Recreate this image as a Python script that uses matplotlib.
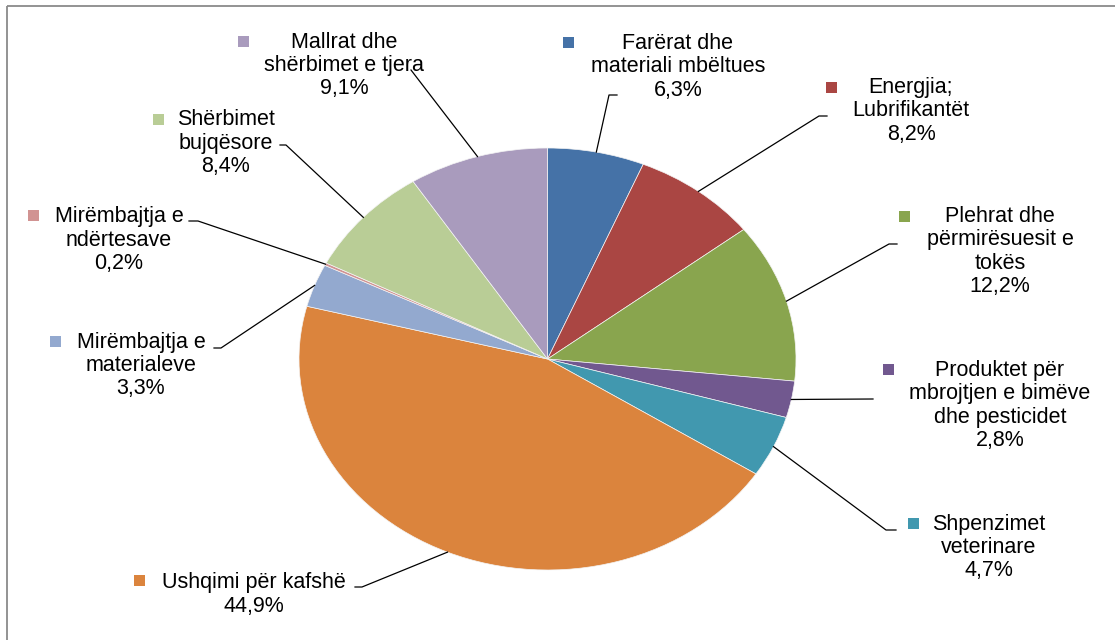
import matplotlib
matplotlib.use("Agg")
import matplotlib.pyplot as plt
from matplotlib.patches import Rectangle
import numpy as np

# ---------------- data ----------------
categories = [
    "Farërat dhe\nmateriali mbëltues",
    "Energjia;\nLubrifikantët",
    "Plehrat dhe\npërmirësuesit e\ntokës",
    "Produktet për\nmbrojtjen e bimëve\ndhe pesticidet",
    "Shpenzimet\nveterinare",
    "Ushqimi për kafshë",
    "Mirëmbajtja e\nmaterialeve",
    "Mirëmbajtja e\nndërtesave",
    "Shërbimet\nbujqësore",
    "Mallrat dhe\nshërbimet e tjera",
]
values = [6.3, 8.2, 12.2, 2.8, 4.7, 44.9, 3.3, 0.2, 8.4, 9.1]
colors = ["#4572A7", "#AA4643", "#89A54E", "#71588F", "#4198AF",
          "#DB843D", "#93A9CF", "#D19392", "#B9CD96", "#A99BBD"]

# ---------------- layout (pixel positions of label blocks) ----------------
W, H = 1115, 640
text_xy = [(678, 67), (911, 111), (1000, 251.5), (1000, 405.5), (989, 547.5),
           (254, 594.5), (141, 365.5), (119, 240), (226, 143), (344, 65.7)]
marker_xy = [(568, 42), (831, 87), (904, 216), (888, 369), (913, 523),
             (139, 580), (55, 341), (33, 215.5), (158, 119), (243, 41)]
leader_pts = [[(617, 95), (609, 95)],
              [(827, 116), (819, 116)],
              [(897, 244), (889, 244)],
              [(873, 399)],
              [(896, 530), (886, 530)],
              [(355, 587), (362, 587)],
              [(214, 348), (221, 348)],
              [(189, 221), (198, 221)],
              [(280, 145), (286, 145)],
              [(411, 70)]]

plt.rcParams['font.family'] = ['Liberation Sans', 'DejaVu Sans']
fig = plt.figure(figsize=(W / 100, H / 100), dpi=100)
fig.patch.set_facecolor("white")

# pie axes (elliptical pie)
cx, cy, rx, ry = 547.5, 359, 248.5, 211
pax = fig.add_axes([(cx - rx) / W, (H - cy - ry) / H, 2 * rx / W, 2 * ry / H])
wedges, _ = pax.pie(values, colors=colors, startangle=90, counterclock=False,
                    radius=1, center=(0, 0),
                    wedgeprops=dict(linewidth=0.5, edgecolor="#f4f4f4"))
pax.set_aspect("auto")
pax.set_xlim(-1, 1)
pax.set_ylim(-1, 1)
pax.axis("off")

# overlay axes in pixel coordinates
oax = fig.add_axes([0, 0, 1, 1], facecolor="none")
oax.set_xlim(0, W)
oax.set_ylim(H, 0)
oax.axis("off")

# frame lines
oax.plot([7, W], [6, 6], color="#8a8a8a", lw=1.3, solid_capstyle="butt")
oax.plot([7, 7], [6, H], color="#8a8a8a", lw=1.3, solid_capstyle="butt")

to_disp = pax.transData
from_disp = oax.transData.inverted()

total = sum(values)
cum = 0.0
for i, (cat, v) in enumerate(zip(categories, values)):
    mid = cum + v / 2
    cum += v
    ang = np.deg2rad(90 - 360 * mid / total)
    rim = from_disp.transform(to_disp.transform((np.cos(ang), np.sin(ang))))
    pts = leader_pts[i] + [tuple(rim)]
    xs = [p[0] for p in pts]
    ys = [p[1] for p in pts]
    oax.plot(xs, ys, color="black", lw=0.9)

    pct = f"{v:.1f}%".replace(".", ",")
    tx, ty = text_xy[i]
    oax.text(tx, ty, cat + "\n" + pct, ha="center", va="center",
             multialignment="center", fontsize=15.5, linespacing=1.13,
             color="black")
    mx, my = marker_xy[i]
    oax.add_patch(Rectangle((mx - 5.5, my - 5.5), 11, 11, facecolor=colors[i],
                            edgecolor="none"))

fig.savefig("out.png", dpi=100, facecolor="white")
